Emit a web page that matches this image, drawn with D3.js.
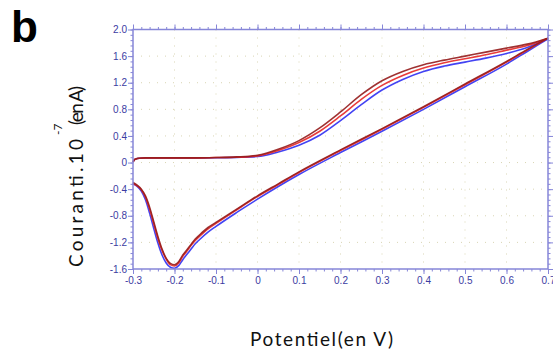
<!DOCTYPE html>
<html>
<head>
<meta charset="utf-8">
<script src="https://cdn.jsdelivr.net/npm/d3@7/dist/d3.min.js"></script>
<style>
  html, body { margin: 0; padding: 0; background: #fff; }
  svg { display: block; }
</style>
</head>
<body>
<svg id="chart" width="553" height="353"></svg>
<script>
// potential (V), forward scan
const fwdX = [-0.3, -0.297, -0.293, -0.285, -0.27, -0.25, -0.2, -0.15, -0.1, -0.05,
  0, 0.05, 0.1, 0.15, 0.2, 0.25, 0.3, 0.35, 0.4, 0.45, 0.5, 0.55, 0.6, 0.65, 0.7];
// current (x1e-7 A), forward scan, one array per cycle
const fwdDark = [0.01, 0.04, 0.055, 0.065, 0.07, 0.07, 0.07, 0.07, 0.075, 0.085,
  0.11, 0.2, 0.33, 0.52, 0.76, 1.02, 1.23, 1.37, 1.47, 1.54, 1.6, 1.66, 1.72, 1.78, 1.87];
const fwdRed = [0.01, 0.04, 0.055, 0.065, 0.07, 0.07, 0.07, 0.07, 0.075, 0.08,
  0.1, 0.18, 0.3, 0.47, 0.7, 0.95, 1.16, 1.31, 1.42, 1.5, 1.56, 1.62, 1.69, 1.76, 1.87];
const fwdBlue = [0.01, 0.04, 0.055, 0.065, 0.07, 0.07, 0.07, 0.07, 0.072, 0.078,
  0.09, 0.16, 0.26, 0.41, 0.63, 0.87, 1.09, 1.25, 1.37, 1.45, 1.51, 1.57, 1.64, 1.73, 1.86];

// reverse scan
const revX = [0.7, 0.65, 0.6, 0.5, 0.4, 0.3, 0.2, 0.1, 0.05, 0, -0.05, -0.1, -0.12, -0.14, -0.15,
  -0.16, -0.17, -0.18, -0.19, -0.2, -0.21, -0.22, -0.23, -0.24, -0.25, -0.26, -0.27, -0.28, -0.29, -0.3];
const revDark = [1.87, 1.7, 1.52, 1.18, 0.84, 0.51, 0.19, -0.14, -0.32, -0.5, -0.7, -0.9, -0.98, -1.09, -1.15,
  -1.23, -1.31, -1.39, -1.49, -1.535, -1.515, -1.44, -1.3, -1.11, -0.89, -0.67, -0.5, -0.4, -0.34, -0.3];
const revRed = [1.87, 1.69, 1.51, 1.17, 0.83, 0.5, 0.18, -0.15, -0.33, -0.51, -0.71, -0.915, -1.0, -1.11, -1.17,
  -1.245, -1.33, -1.41, -1.51, -1.555, -1.535, -1.45, -1.32, -1.14, -0.92, -0.7, -0.52, -0.41, -0.35, -0.31];
const revBlue = [1.86, 1.67, 1.48, 1.14, 0.8, 0.47, 0.15, -0.18, -0.36, -0.55, -0.75, -0.96, -1.05, -1.16, -1.22,
  -1.3, -1.38, -1.46, -1.55, -1.59, -1.575, -1.51, -1.39, -1.21, -0.99, -0.76, -0.56, -0.43, -0.36, -0.32];

const xTicks = [-0.3, -0.2, -0.1, 0, 0.1, 0.2, 0.3, 0.4, 0.5, 0.6, 0.7];
const xTickLabels = ["-0.3", "-0.2", "-0.1", "0", "0.1", "0.2", "0.3", "0.4", "0.5", "0.6", "0.7"];
const yTicks = [2.0, 1.6, 1.2, 0.8, 0.4, 0, -0.4, -0.8, -1.2, -1.6];
const yTickLabels = ["2.0", "1.6", "1.2", "0.8", "0.4", "0", "-0.4", "-0.8", "-1.2", "-1.6"];

const cycles = [
  { name: "blue", color: "#2f2ff2", fwd: fwdBlue, rev: revBlue },
  { name: "red", color: "#e62626", fwd: fwdRed, rev: revRed },
  { name: "dark", color: "#951c1c", fwd: fwdDark, rev: revDark }
];

const svg = d3.select("#chart");
const plotL = 133, plotR = 548, plotT = 29.5, plotB = 269;
const axisColor = "#8686d8";
const labelColor = "#3c3ca2";

const x = d3.scaleLinear().domain([-0.3, 0.7]).range([plotL, plotR]);
const y = d3.scaleLinear().domain([-1.6, 2.0]).range([plotB, plotT]);

// minor ticks: 5 subdivisions per major step
const xMinor = d3.range(0, 51).map(i => -0.3 + i * 0.02);
const yMinor = d3.range(0, 46).map(i => -1.6 + i * 0.08);

// dotted grid
const grid = svg.append("g");
grid.selectAll("line.gx")
  .data(xTicks.slice(1, -1))
  .enter().append("line")
  .attr("x1", d => x(d)).attr("x2", d => x(d))
  .attr("y1", plotT).attr("y2", plotB)
  .attr("stroke", "#d9d5b4").attr("stroke-width", 1)
  .attr("stroke-dasharray", "1,7");
grid.selectAll("line.gy")
  .data(yTicks.slice(1, -1))
  .enter().append("line")
  .attr("x1", plotL).attr("x2", plotR)
  .attr("y1", d => y(d)).attr("y2", d => y(d))
  .attr("stroke", "#d9d5b4").attr("stroke-width", 1)
  .attr("stroke-dasharray", "1,7");

// curves
const line = d3.line()
  .x(d => x(d[0]))
  .y(d => y(d[1]))
  .curve(d3.curveMonotoneX);

const plot = svg.append("g");
cycles.forEach(c => {
  const f = fwdX.map((v, i) => [v, c.fwd[i]]);
  const r = revX.map((v, i) => [v, c.rev[i]]).sort((a, b) => a[0] - b[0]);
  [f, r].forEach(pts => {
    plot.append("path")
      .attr("d", line(pts))
      .attr("fill", "none")
      .attr("stroke", c.color)
      .attr("stroke-width", 1.6)
      .attr("stroke-linejoin", "round")
      .attr("opacity", 0.9);
  });
});

// axes
function styleAxis(g) {
  g.select(".domain").remove();
  g.selectAll(".tick line").attr("stroke", axisColor).attr("stroke-width", 1);
  g.selectAll(".tick text")
    .attr("fill", labelColor)
    .style("font-family", "'Liberation Sans', Arial, sans-serif")
    .style("font-size", "10px");
}

svg.append("g").attr("transform", `translate(0,${plotB})`)
  .call(d3.axisBottom(x).tickValues(xMinor).tickSize(2.5).tickFormat(""))
  .call(styleAxis);
svg.append("g").attr("transform", `translate(0,${plotB})`)
  .call(d3.axisBottom(x).tickValues(xTicks).tickSize(5).tickPadding(3)
    .tickFormat((d, i) => xTickLabels[i]))
  .call(styleAxis);
svg.append("g").attr("transform", `translate(0,${plotT})`)
  .call(d3.axisTop(x).tickValues(xMinor).tickSize(2.5).tickFormat(""))
  .call(styleAxis);
svg.append("g").attr("transform", `translate(0,${plotT})`)
  .call(d3.axisTop(x).tickValues(xTicks).tickSize(5).tickFormat(""))
  .call(styleAxis);
svg.append("g").attr("transform", `translate(${plotL},0)`)
  .call(d3.axisLeft(y).tickValues(yMinor).tickSize(2.5).tickFormat(""))
  .call(styleAxis);
svg.append("g").attr("transform", `translate(${plotL},0)`)
  .call(d3.axisLeft(y).tickValues(yTicks).tickSize(5).tickPadding(1)
    .tickFormat((d, i) => yTickLabels[i]))
  .call(styleAxis);
svg.append("g").attr("transform", `translate(${plotR},0)`)
  .call(d3.axisRight(y).tickValues(yMinor).tickSize(2.5).tickFormat(""))
  .call(styleAxis);
svg.append("g").attr("transform", `translate(${plotR},0)`)
  .call(d3.axisRight(y).tickValues(yTicks).tickSize(5).tickFormat(""))
  .call(styleAxis);

// frame
svg.append("rect")
  .attr("x", plotL).attr("y", plotT)
  .attr("width", plotR - plotL).attr("height", plotB - plotT)
  .attr("fill", "none").attr("stroke", axisColor).attr("stroke-width", 1.5);

// panel letter
svg.append("text")
  .attr("x", 11).attr("y", 42)
  .style("font-family", "'Liberation Sans', Arial, sans-serif")
  .style("font-weight", "bold").style("font-size", "44px")
  .attr("fill", "#000")
  .text("b");

// axis titles
const titleFont = "Lato, 'Open Sans', sans-serif";
svg.append("text")
  .attr("x", 250).attr("y", 346)
  .attr("textLength", 143).attr("lengthAdjust", "spacing")
  .style("font-family", titleFont).style("font-size", "19px")
  .attr("fill", "#111")
  .text("Potentiel(en V)");

svg.append("text")
  .attr("transform", "translate(83,267) rotate(-90)")
  .attr("textLength", 128).attr("lengthAdjust", "spacing")
  .style("font-family", titleFont).style("font-size", "19px")
  .attr("fill", "#111")
  .text("Couranti.10");
svg.append("text")
  .attr("transform", "translate(62,135) rotate(-90)")
  .style("font-family", titleFont).style("font-size", "12px")
  .attr("fill", "#111")
  .text("-7");
svg.append("text")
  .attr("transform", "translate(83,125) rotate(-90)")
  .attr("textLength", 39).attr("lengthAdjust", "spacing")
  .style("font-family", titleFont).style("font-size", "19px")
  .attr("fill", "#111")
  .text("(en A)");
</script>
</body>
</html>
